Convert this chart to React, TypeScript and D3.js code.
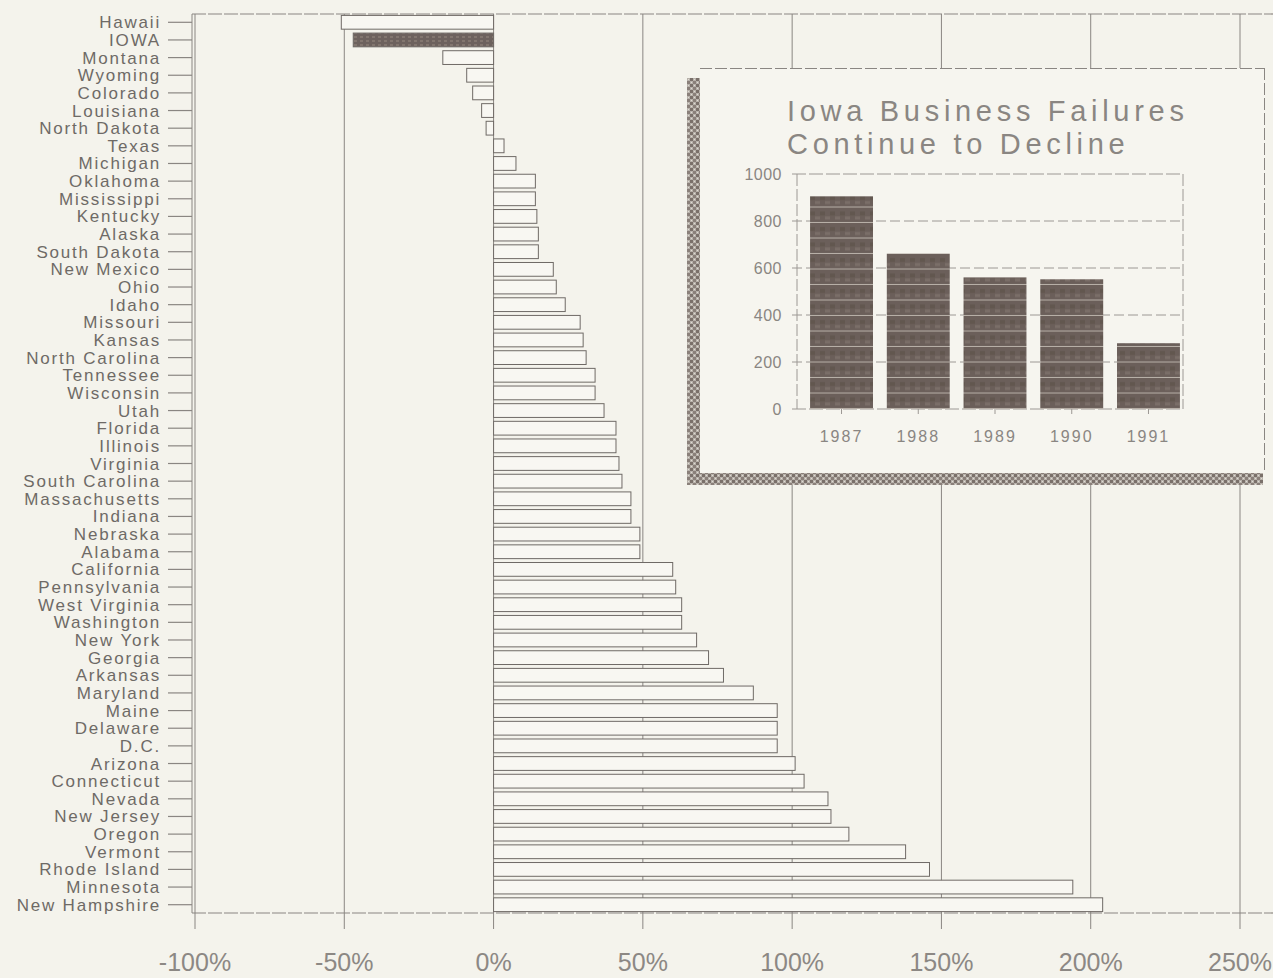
import React from "react";
import * as d3 from "d3";

const states = [
  "Hawaii", "IOWA", "Montana", "Wyoming", "Colorado", "Louisiana", "North Dakota", "Texas",
  "Michigan", "Oklahoma", "Mississippi", "Kentucky", "Alaska", "South Dakota", "New Mexico",
  "Ohio", "Idaho", "Missouri", "Kansas", "North Carolina", "Tennessee", "Wisconsin", "Utah",
  "Florida", "Illinois", "Virginia", "South Carolina", "Massachusetts", "Indiana", "Nebraska",
  "Alabama", "California", "Pennsylvania", "West Virginia", "Washington", "New York", "Georgia",
  "Arkansas", "Maryland", "Maine", "Delaware", "D.C.", "Arizona", "Connecticut", "Nevada",
  "New Jersey", "Oregon", "Vermont", "Rhode Island", "Minnesota", "New Hampshire",
];
const changes = [
  -51, -47, -17, -9, -7, -4, -2.5, 3.5,
  7.5, 14, 14, 14.5, 15, 15, 20,
  21, 24, 29, 30, 31, 34, 34, 37,
  41, 41, 42, 43, 46, 46, 49,
  49, 60, 61, 63, 63, 68, 72,
  77, 87, 95, 95, 95, 101, 104, 112,
  113, 119, 138, 146, 194, 204,
];
const xTicks = [-100, -50, 0, 50, 100, 150, 200, 250];

const years = ["1987", "1988", "1989", "1990", "1991"];
const failures = [905, 662, 560, 552, 280];
const insetTicks = [0, 200, 400, 600, 800, 1000];

const W = 1273;
const H = 978;
const BG = "#f4f3ec";
const INK = "#6e6a66";
const LINE = "#8a8682";

export default function App() {
  const plotTop = 14;
  const plotBottom = 913;
  const x = d3.scaleLinear().domain([-100, 250]).range([195, 1240]);
  const y = d3.scaleBand<string>().domain(states).range([plotTop, plotBottom]).paddingInner(0.22).paddingOuter(0.08);

  // inset
  const ix0 = 797, ix1 = 1183, iy0 = 174, iy1 = 409;
  const ix = d3.scaleBand<string>().domain(years).range([ix0 + 10, ix1]).paddingInner(0.18).paddingOuter(0.04);
  const iy = d3.scaleLinear().domain([0, 1000]).range([iy1, iy0]);

  const font = "'Liberation Sans', Arial, Helvetica, sans-serif";

  return (
    <svg width={W} height={H} style={{ position: "absolute", left: 0, top: 0, display: "block" }} fontFamily={font}>
      <defs>
        <pattern id="speck" width="6" height="6" patternUnits="userSpaceOnUse">
          <rect width="6" height="6" fill="#b7b1aa" />
          <rect x="0" y="0" width="3" height="3" fill="#7a706a" />
          <rect x="3" y="3" width="3" height="3" fill="#8a807a" />
          <rect x="1" y="4" width="1" height="1" fill="#e0dcd4" />
          <rect x="4" y="1" width="1" height="1" fill="#e0dcd4" />
        </pattern>
        <pattern id="barfill" width="10" height="15.5" patternUnits="userSpaceOnUse" y={iy1}>
          <rect width="10" height="15.5" fill="#6b5f5a" />
          <rect x="0" y="4" width="5" height="4" fill="#62574f" />
          <rect x="5" y="9" width="5" height="3" fill="#7a6e68" />
          <rect x="0" y="14.5" width="10" height="1" fill="#b8b0a8" />
        </pattern>
        <pattern id="iowafill" width="6" height="4" patternUnits="userSpaceOnUse">
          <rect width="6" height="4" fill="#6d625e" />
          <rect x="0" y="0" width="3" height="2" fill="#82766f" />
        </pattern>
      </defs>
      <rect width={W} height={H} fill={BG} />

      {/* gridlines */}
      {xTicks.map((t) => (
        <line key={"g" + t} x1={x(t)} x2={x(t)} y1={plotTop} y2={plotBottom + 16} stroke={LINE} strokeWidth={1} />
      ))}
      {/* frame */}
      <line x1={x(-100) - 3} x2={W} y1={plotTop} y2={plotTop} stroke={LINE} strokeWidth={1.2} strokeDasharray="14 2" />
      <line x1={x(-100) - 3} x2={W} y1={plotBottom} y2={plotBottom} stroke={LINE} strokeWidth={1.2} strokeDasharray="14 2" />
      <line x1={x(-100) - 3} x2={x(-100) - 3} y1={plotTop} y2={plotBottom} stroke={LINE} strokeWidth={1} />

      {/* bars */}
      {states.map((s, i) => {
        const v = changes[i];
        const x0 = x(Math.min(0, v));
        const x1 = x(Math.max(0, v));
        const isIowa = s === "IOWA";
        return (
          <rect
            key={s}
            x={x0}
            y={y(s)}
            width={x1 - x0}
            height={y.bandwidth()}
            fill={isIowa ? "url(#iowafill)" : "#f8f7f2"}
            stroke="#6f6a66"
            strokeWidth={1}
          />
        );
      })}

      {/* category labels and ticks */}
      {states.map((s) => {
        const cy = (y(s) as number) + y.bandwidth() / 2;
        return (
          <g key={"l" + s}>
            <line x1={168} x2={x(-100) - 3} y1={cy} y2={cy} stroke={LINE} strokeWidth={1.2} />
            <text x={161} y={cy + 6} textAnchor="end" fontSize={17} letterSpacing={1.8} fill={INK}>
              {s}
            </text>
          </g>
        );
      })}

      {/* x tick labels */}
      {xTicks.map((t) => (
        <text key={"t" + t} x={x(t)} y={971} textAnchor="middle" fontSize={25} fill="#8c8884">
          {t + "%"}
        </text>
      ))}

      {/* inset shadow */}
      <rect x={687} y={78} width={14} height={407} fill="url(#speck)" />
      <rect x={687} y={472} width={576} height={13} fill="url(#speck)" />
      {/* inset panel */}
      <rect x={700} y={68} width={565} height={405} fill="#f6f5ef" />
      <line x1={700} x2={1265} y1={68.5} y2={68.5} stroke={LINE} strokeDasharray="12 3" />
      <line x1={1264.5} x2={1264.5} y1={68} y2={473} stroke={LINE} strokeDasharray="12 3" />

      <text x={787} y={121} fontSize={29} letterSpacing={4.7} fill="#8a8682">Iowa Business Failures</text>
      <text x={787} y={154} fontSize={29} letterSpacing={4.7} fill="#8a8682">Continue to Decline</text>

      {/* inset grid */}
      {insetTicks.map((t) => (
        <g key={"it" + t}>
          <line x1={ix0 - 5} x2={ix1} y1={iy(t)} y2={iy(t)} stroke="#9c9894" strokeWidth={1} strokeDasharray={t === 0 || t === 1000 ? "14 3" : "10 4"} />
          <text x={782} y={iy(t) + 5.5} textAnchor="end" fontSize={16} letterSpacing={0.5} fill="#8a8682">
            {t}
          </text>
        </g>
      ))}
      <line x1={ix0} x2={ix0} y1={iy0} y2={iy1} stroke="#9c9894" strokeDasharray="12 3" />
      <line x1={ix1} x2={ix1} y1={iy0} y2={iy1} stroke="#9c9894" strokeDasharray="12 3" />

      {years.map((yr, i) => (
        <g key={yr}>
          <rect
            x={ix(yr)}
            y={iy(failures[i])}
            width={ix.bandwidth()}
            height={iy1 - iy(failures[i])}
            fill="url(#barfill)"
          />
          <line x1={(ix(yr) as number) + ix.bandwidth() / 2} x2={(ix(yr) as number) + ix.bandwidth() / 2} y1={iy1} y2={iy1 + 5} stroke="#9c9894" />
          <text
            x={(ix(yr) as number) + ix.bandwidth() / 2}
            y={442}
            textAnchor="middle"
            fontSize={16}
            letterSpacing={2}
            fill="#8a8682"
          >
            {yr}
          </text>
        </g>
      ))}
    </svg>
  );
}
